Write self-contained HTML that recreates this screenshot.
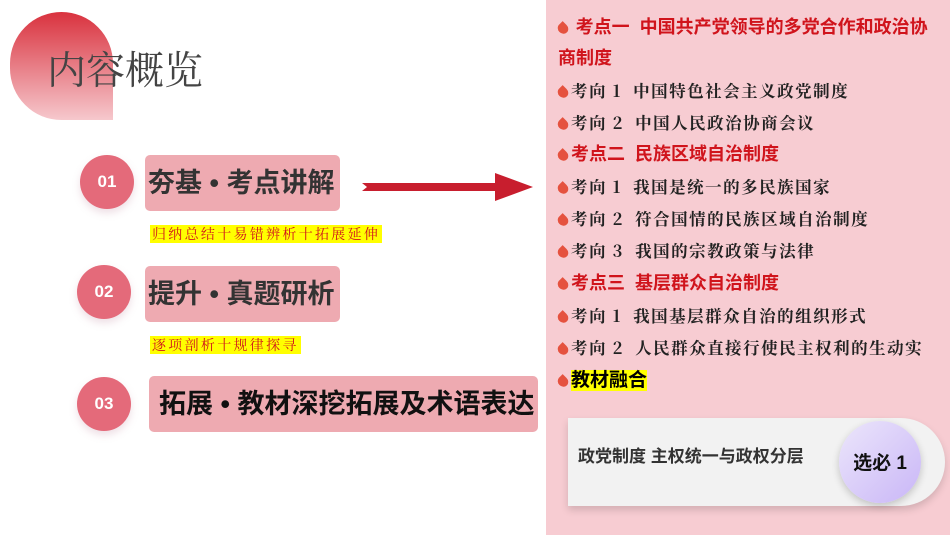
<!DOCTYPE html>
<html><head><meta charset="utf-8"><style>
body{margin:0;width:950px;height:535px;position:relative;overflow:hidden;background:#fff;font-family:"Liberation Sans","Noto Sans CJK SC",sans-serif}
.a{position:absolute}
.title{left:47px;top:40px;font:39px "Liberation Serif","Noto Serif CJK SC",serif;color:#444}
.drop{left:10px;top:12px;width:103px;height:108px;border-radius:52px 52px 0 52px;background:linear-gradient(#d9323e,#f6c8cd)}
.c{border-radius:50%;background:#e46a7a;color:#fff;font-weight:bold;font-size:17px;text-align:center;width:54px;height:54px;line-height:54px;box-shadow:0 4px 8px rgba(200,150,170,.3)}
.box{background:#eeaab1;border-radius:5px;font-weight:bold;font-size:27px;color:#333;line-height:56px;padding-left:3px;box-sizing:border-box;white-space:nowrap}
.lab{background:#ffff00;color:#d0141c;font:14px "Noto Serif CJK SC",serif;line-height:18px;letter-spacing:2.3px;padding:0 2px}
.panel{left:546px;top:0;width:404px;height:535px;background:#f7ccd2}
.r{position:absolute;left:558px;font-size:16.5px;line-height:24px;white-space:nowrap}
.r b{font-weight:bold}
.red{color:#d0141c;font-weight:bold;font-size:18px}
.k{color:#222;font-family:"Noto Serif CJK SC",serif;font-weight:bold;letter-spacing:1.5px}
.d{display:inline-block;width:10px;height:11px;background:#e5523f;border-radius:50% 0 50% 50%;transform:rotate(-45deg);margin-right:3px;vertical-align:-1px}
</style></head><body>
<div class="a drop"></div>
<div class="a title">内容概览</div>
<div class="a c" style="left:80px;top:155px">01</div>
<div class="a box" style="left:145px;top:155px;width:195px">夯基 • 考点讲解</div>
<div class="a lab" style="left:150px;top:225px">归纳总结十易错辨析十拓展延伸</div>
<div class="a c" style="left:77px;top:265px">02</div>
<div class="a box" style="left:145px;top:266px;width:195px">提升 • 真题研析</div>
<div class="a lab" style="left:150px;top:336px">逐项剖析十规律探寻</div>
<div class="a c" style="left:77px;top:377px">03</div>
<div class="a box" style="left:149px;top:376px;width:389px;color:#111;padding-left:10px">拓展 • 教材深挖拓展及术语表达</div>
<svg class="a" style="left:360px;top:170px" width="180" height="34"><polygon points="2,13 135,13 135,3 173,17 135,31 135,21 2,21 7,17" fill="#c81e2e"/></svg>
<div class="a panel"></div>
<div class="r" style="top:15px"><span class="d"></span> <span class="red">考点一&nbsp; 中国共产党领导的多党合作和政治协</span></div>
<div class="r" style="top:46px"><span class="red">商制度</span></div>
<div class="r" style="top:78px"><span class="d"></span><span class="k">考向 1&nbsp; 中国特色社会主义政党制度</span></div>
<div class="r" style="top:110px"><span class="d"></span><span class="k">考向 2&nbsp; 中国人民政治协商会议</span></div>
<div class="r" style="top:142px"><span class="d"></span><span class="red">考点二&nbsp; 民族区域自治制度</span></div>
<div class="r" style="top:174px"><span class="d"></span><span class="k">考向 1&nbsp; 我国是统一的多民族国家</span></div>
<div class="r" style="top:206px"><span class="d"></span><span class="k">考向 2&nbsp; 符合国情的民族区域自治制度</span></div>
<div class="r" style="top:238px"><span class="d"></span><span class="k">考向 3&nbsp; 我国的宗教政策与法律</span></div>
<div class="r" style="top:271px"><span class="d"></span><span class="red">考点三&nbsp; 基层群众自治制度</span></div>
<div class="r" style="top:303px"><span class="d"></span><span class="k">考向 1&nbsp; 我国基层群众自治的组织形式</span></div>
<div class="r" style="top:335px"><span class="d"></span><span class="k">考向 2&nbsp; 人民群众直接行使民主权利的生动实</span></div>
<div class="r" style="top:369px"><span class="d"></span><b style="background:#ffff00;font-size:19px">教材融合</b></div>
<div class="a" style="left:568px;top:418px;width:377px;height:88px;background:#f2f2f2;border-radius:0 44px 44px 0;box-shadow:0 4px 8px rgba(0,0,0,.15)"></div>
<div class="a" style="left:578px;top:442px;font-size:17px;font-weight:bold;color:#333">政党制度 主权统一与政权分层</div>
<div class="a" style="left:839px;top:421px;width:82px;height:82px;border-radius:50%;background:linear-gradient(135deg,#ece6fb,#c9b6f7);box-shadow:0 3px 8px rgba(0,0,0,.2);text-align:center;line-height:86px;font-size:19px;font-weight:bold;color:#111">选必 1</div>
</body></html>
